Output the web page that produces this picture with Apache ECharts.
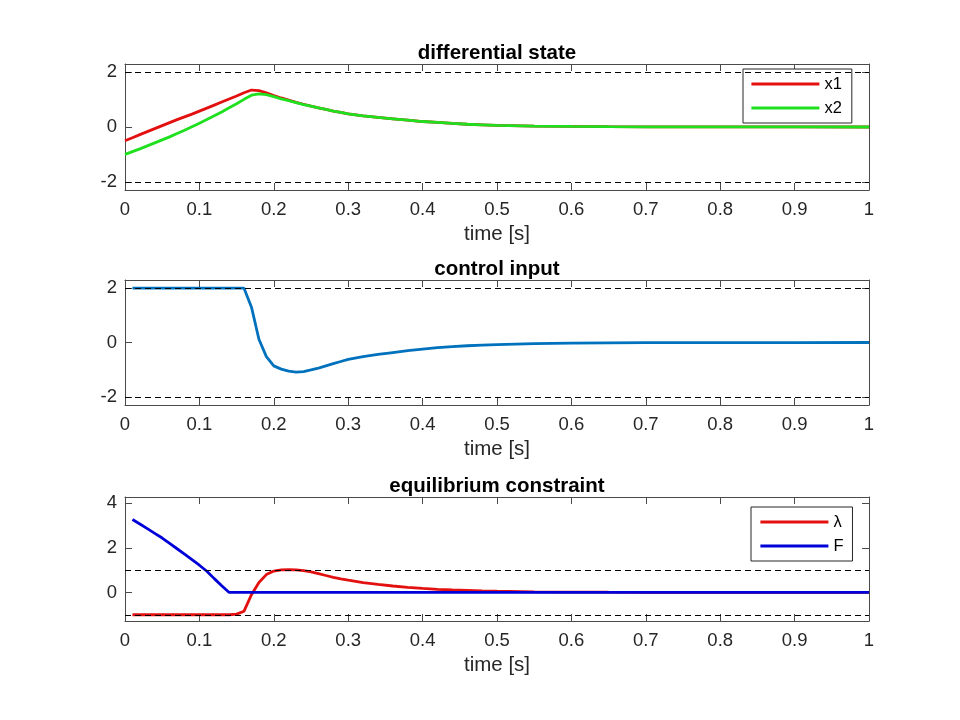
<!DOCTYPE html>
<html>
<head>
<meta charset="utf-8">
<script src="https://cdn.jsdelivr.net/npm/echarts@6/dist/echarts.min.js"></script>
<style>
html,body{margin:0;padding:0;background:#fff}
#main{width:960px;height:720px}
</style>
</head>
<body>
<div id="main"></div>
<script>
// time grid [s]
var t = [0,0.01,0.02,0.03,0.04,0.05,0.06,0.07,0.08,0.09,0.1,0.11,0.12,0.13,0.14,0.15,0.16,0.17,0.18,0.19,0.2,
  0.21,0.22,0.23,0.24,0.25,0.26,0.27,0.28,0.29,0.3,0.32,0.34,0.36,0.38,0.4,0.42,0.44,0.46,0.48,0.5,
  0.55,0.6,0.65,0.7,0.8,0.9,1];
// differential states
var x1 = [-0.5,-0.39,-0.28,-0.17,-0.06,0.05,0.16,0.27,0.37,0.47,0.58,0.69,0.8,0.91,1.02,1.13,1.25,1.35,1.33,1.25,1.15,
  1.06,0.98,0.9,0.83,0.76,0.7,0.64,0.58,0.53,0.48,0.41,0.35,0.3,0.25,0.2,0.17,0.13,0.1,0.08,0.06,
  0.035,0.02,0.012,0.007,0.002,0.001,0];
var x2 = [-1,-0.9,-0.8,-0.69,-0.58,-0.47,-0.36,-0.24,-0.12,0.01,0.14,0.27,0.41,0.55,0.7,0.85,1.01,1.16,1.21,1.18,1.11,
  1.03,0.96,0.89,0.82,0.76,0.7,0.64,0.58,0.53,0.48,0.41,0.35,0.3,0.25,0.2,0.17,0.13,0.1,0.08,0.06,
  0.035,0.02,0.012,0.007,0.002,0.001,0];
// control input (no value at t=0)
var u = [null,2,2,2,2,2,2,2,2,2,2,2,2,2,2,2,2,1.3,0.12,-0.52,-0.86,
  -0.98,-1.05,-1.09,-1.07,-1.01,-0.94,-0.86,-0.78,-0.7,-0.62,-0.52,-0.44,-0.37,-0.3,-0.24,-0.19,-0.15,-0.12,-0.095,-0.075,
  -0.045,-0.025,-0.015,-0.008,-0.003,-0.001,0];
// equilibrium constraint
var lam = [null,-1,-1,-1,-1,-1,-1,-1,-1,-1,-1,-1,-1,-1,-1,-0.97,-0.84,-0.1,0.45,0.8,0.96,
  1.01,1.02,1.01,0.98,0.92,0.84,0.76,0.68,0.61,0.55,0.44,0.36,0.29,0.23,0.18,0.14,0.11,0.09,0.07,0.055,
  0.03,0.018,0.011,0.006,0.002,0.001,0];
var F = [null,3.27,3.07,2.86,2.65,2.44,2.2,1.96,1.72,1.47,1.22,0.95,0.62,0.3,0,0,0,0,0,0,0,
  0,0,0,0,0,0,0,0,0,0,0,0,0,0,0,0,0,0,0,0,
  0,0,0,0,0,0,0];

var stateBounds = [2,-2];
var inputBounds = [2,-2];
var eqBounds = [1,-1];
var ticks1 = [-2,0,2];
var ticks3 = [0,2,4];

var FONT = '"Liberation Sans", Arial, Helvetica, sans-serif';
var AX = '#4a4a4a';
var TXT = '#262626';
var LW = 2.8;

function pairs(v) {
  return t.map(function (x, i) { return [x, v[i]]; }).filter(function (p) { return p[1] !== null; });
}

var grids = [
  {left:125, right:91, top:64, height:126},
  {left:125, right:91, top:280, height:125},
  {left:125, right:91, top:497, height:124}
];

var xAxes = [], yAxes = [];
grids.forEach(function (g, i) {
  xAxes.push({
    type:'value', gridIndex:i, min:0, max:1, interval:0.1, position:'bottom',
    name:'time [s]', nameLocation:'middle', nameGap:34,
    nameTextStyle:{fontFamily:FONT, fontSize:20.5, color:TXT},
    axisLine:{onZero:false, lineStyle:{color:AX, width:1}},
    axisTick:{inside:true, length:7, lineStyle:{color:AX}},
    axisLabel:{margin:10, fontFamily:FONT, fontSize:18.5, color:TXT},
    splitLine:{show:false}
  });
  xAxes.push({
    type:'value', gridIndex:i, min:0, max:1, interval:0.1, position:'top',
    axisLine:{onZero:false, lineStyle:{color:AX, width:1}},
    axisTick:{inside:true, length:7, lineStyle:{color:AX}},
    axisLabel:{show:false}, splitLine:{show:false}
  });
});

function addY(i, min, max, tv) {
  yAxes.push({
    type:'value', gridIndex:i, min:min, max:max, position:'left',
    axisLine:{show:true, onZero:false, lineStyle:{color:AX, width:1}},
    axisTick:{show:true, inside:true, length:7, customValues:tv, lineStyle:{color:AX}},
    axisLabel:{margin:8, customValues:tv, fontFamily:FONT, fontSize:18.5, color:TXT},
    splitLine:{show:false}
  });
  yAxes.push({
    type:'value', gridIndex:i, min:min, max:max, position:'right',
    axisLine:{show:true, onZero:false, lineStyle:{color:AX, width:1}},
    axisTick:{show:true, inside:true, length:7, customValues:tv, lineStyle:{color:AX}},
    axisLabel:{show:false}, splitLine:{show:false}
  });
}
addY(0, -2.3, 2.3, ticks1);
addY(1, -2.3, 2.3, ticks1);
addY(2, -1.28, 4.28, ticks3);

function bounds(vals) {
  return {
    silent:true, symbol:'none', animation:false,
    label:{show:false},
    lineStyle:{color:'#000', type:[6,4], width:1},
    data: vals.map(function (v) { return {yAxis:v}; })
  };
}

function line(name, v, xi, yi, color, mark) {
  var s = {
    name:name, type:'line', xAxisIndex:xi, yAxisIndex:yi, data:pairs(v),
    symbol:'none', showSymbol:false, smooth:false,
    lineStyle:{color:color, width:LW}, itemStyle:{color:color},
    emphasis:{disabled:true}
  };
  if (mark) s.markLine = bounds(mark);
  return s;
}

function titleAt(text, top) {
  return {
    text:text, left:497, top:top, textAlign:'center', padding:0,
    textStyle:{fontFamily:FONT, fontSize:20.5, fontWeight:'bold', color:'#000'}
  };
}

var legendBase = {
  orient:'vertical', itemWidth:68, itemHeight:18, itemGap:6,
  borderColor:'#262626', borderWidth:1, backgroundColor:'#fff',
  lineStyle:{width:LW},
  itemStyle:{opacity:0},
  textStyle:{fontFamily:FONT, fontSize:16.5, color:'#000', lineHeight:18},
  selectedMode:false
};

var chart = echarts.init(document.getElementById('main'));
chart.setOption({
  backgroundColor:'#fff',
  animation:false,
  title:[
    titleAt('differential state', 43),
    titleAt('control input', 259),
    titleAt('equilibrium constraint', 476)
  ],
  legend:[
    Object.assign({}, legendBase, {data:['x1','x2'], left:743, top:69, padding:[6,10,6,7]}),
    Object.assign({}, legendBase, {data:['λ','F'], left:751, top:507, padding:[6,9,6,8]})
  ],
  grid:grids,
  xAxis:xAxes,
  yAxis:yAxes,
  series:[
    line('x1', x1, 0, 0, '#e31010', null),
    line('x2', x2, 0, 0, '#1ee01e', stateBounds),
    line('u', u, 2, 2, '#0072bd', inputBounds),
    line('λ', lam, 4, 4, '#e31010', null),
    line('F', F, 4, 4, '#0000d8', eqBounds)
  ]
});
</script>
</body>
</html>
